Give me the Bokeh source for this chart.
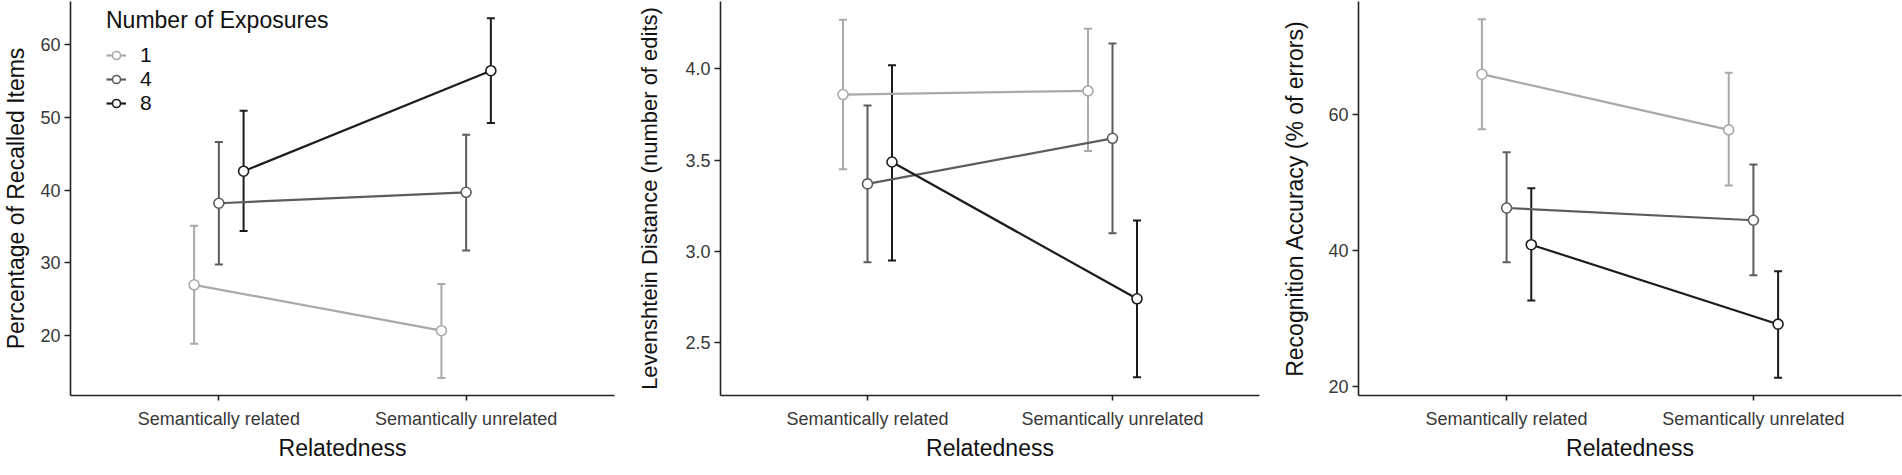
from bokeh.plotting import figure
from bokeh.layouts import row
from bokeh.models import (Range1d, FixedTicker, ColumnDataSource, Whisker, TeeHead,
                          NumeralTickFormatter)
from bokeh.embed import file_html
from bokeh.resources import INLINE

# ---------------- data ----------------
categories = ["Semantically related", "Semantically unrelated"]
exposures = ["1", "4", "8"]
series_colors = ["#a9a9a9", "#5c5c5c", "#1c1c1c"]
dodge_offsets = [-0.1, 0.0, 0.1]

# Panel 1: Percentage of Recalled Items
recall_mean = [[27.0, 20.7], [38.2, 39.7], [42.6, 56.4]]
recall_lower = [[18.9, 14.2], [29.8, 31.7], [34.4, 49.2]]
recall_upper = [[35.1, 27.1], [46.6, 47.6], [50.9, 63.6]]
recall_ticks = [20, 30, 40, 50, 60]

# Panel 2: Levenshtein Distance
lev_mean = [[3.86, 3.88], [3.37, 3.62], [3.49, 2.74]]
lev_lower = [[3.45, 3.55], [2.94, 3.10], [2.95, 2.31]]
lev_upper = [[4.27, 4.22], [3.80, 4.14], [4.02, 3.17]]
lev_ticks = [2.5, 3.0, 3.5, 4.0]

# Panel 3: Recognition Accuracy
rec_mean = [[66.0, 57.8], [46.3, 44.5], [40.9, 29.2]]
rec_lower = [[57.9, 49.6], [38.3, 36.4], [32.7, 21.3]]
rec_upper = [[74.1, 66.2], [54.5, 52.7], [49.2, 37.0]]
rec_ticks = [20, 40, 60]

FONT = "Liberation Sans"


def make_panel(ylabel, means, lows, highs, yr, yticks, fmt, left, frame_w, right,
               lab_standoff, ytitle_size="23px", legend=False):
    p = figure(frame_width=frame_w, frame_height=394,
               min_border_left=left, min_border_right=right,
               min_border_top=1, min_border_bottom=64,
               x_range=Range1d(0.4, 2.6), y_range=Range1d(*yr),
               output_backend="svg", toolbar_location=None)
    p.outline_line_color = None
    p.xgrid.visible = False
    p.ygrid.visible = False
    p.background_fill_color = "white"
    p.border_fill_color = "white"

    p.xaxis.ticker = FixedTicker(ticks=[1, 2])
    p.xaxis.major_label_overrides = {1: categories[0], 2: categories[1]}
    p.yaxis.ticker = FixedTicker(ticks=yticks)
    if fmt:
        p.yaxis.formatter = NumeralTickFormatter(format=fmt)

    for ax in (p.xaxis[0], p.yaxis[0]):
        ax.axis_line_color = "#222222"
        ax.axis_line_width = 1.6
        ax.major_tick_line_color = "#222222"
        ax.major_tick_line_width = 1.6
        ax.major_tick_in = 0
        ax.major_tick_out = 6
        ax.minor_tick_line_color = None
        ax.major_label_text_font = FONT
        ax.major_label_text_font_size = "18px"
        ax.major_label_text_color = "#383838"
        ax.axis_label_text_font = FONT
        ax.axis_label_text_font_size = "23px"
        ax.axis_label_text_font_style = "normal"
        ax.axis_label_text_color = "#111111"

    p.xaxis.axis_label = "Relatedness"
    p.xaxis.major_tick_out = 5
    p.xaxis.major_label_standoff = 8
    p.xaxis.axis_label_standoff = 3
    p.yaxis.axis_label = ylabel
    p.yaxis.axis_label_text_font_size = ytitle_size
    p.yaxis.major_label_standoff = 4
    p.yaxis.axis_label_standoff = lab_standoff

    for i, name in enumerate(exposures):
        xs = [k + 1 + dodge_offsets[i] for k in range(len(categories))]
        src = ColumnDataSource(dict(x=xs, m=means[i], lo=lows[i], hi=highs[i]))
        c = series_colors[i]
        w = Whisker(source=src, base="x", lower="lo", upper="hi", dimension="height",
                    line_color=c, line_width=2,
                    upper_head=TeeHead(size=8, line_color=c, line_width=2),
                    lower_head=TeeHead(size=8, line_color=c, line_width=2),
                    level="underlay")
        p.add_layout(w)
        kw = dict(legend_label=name) if legend else {}
        p.line("x", "m", source=src, line_color=c, line_width=2.2, **kw)
        p.scatter("x", "m", source=src, size=10, marker="circle",
                  fill_color="white", line_color=c, line_width=1.6, **kw)

    if legend:
        lg = p.legend[0]
        lg.title = "Number of Exposures"
        lg.title_text_font = FONT
        lg.title_text_font_size = "23px"
        lg.title_text_font_style = "normal"
        lg.title_text_color = "#111111"
        lg.title_standoff = 9
        lg.label_text_font = FONT
        lg.label_text_font_size = "21px"
        lg.label_text_color = "#111111"
        lg.label_standoff = 14
        lg.glyph_width = 20
        lg.glyph_height = 24
        lg.label_height = 24
        lg.spacing = 0
        lg.padding = 0
        lg.margin = 0
        lg.border_line_color = None
        lg.background_fill_alpha = 0
        lg.location = (36, 280)
    return p


p1 = make_panel("Percentage of Recalled Items", recall_mean, recall_lower, recall_upper,
                (11.8, 65.9), recall_ticks, None, 64, 544, 20, 8, legend=True)
p2 = make_panel("Levenshtein Distance (number of edits)", lev_mean, lev_lower, lev_upper,
                (2.21, 4.37), lev_ticks, "0.0", 81, 539, 20, 20, ytitle_size="22px")
p3 = make_panel("Recognition Accuracy (% of errors)", rec_mean, rec_lower, rec_upper,
                (18.7, 76.7), rec_ticks, None, 74, 543, 1, 17)

layout = row(p1, p2, p3)
open("out.html", "w").write(file_html(layout, INLINE))
